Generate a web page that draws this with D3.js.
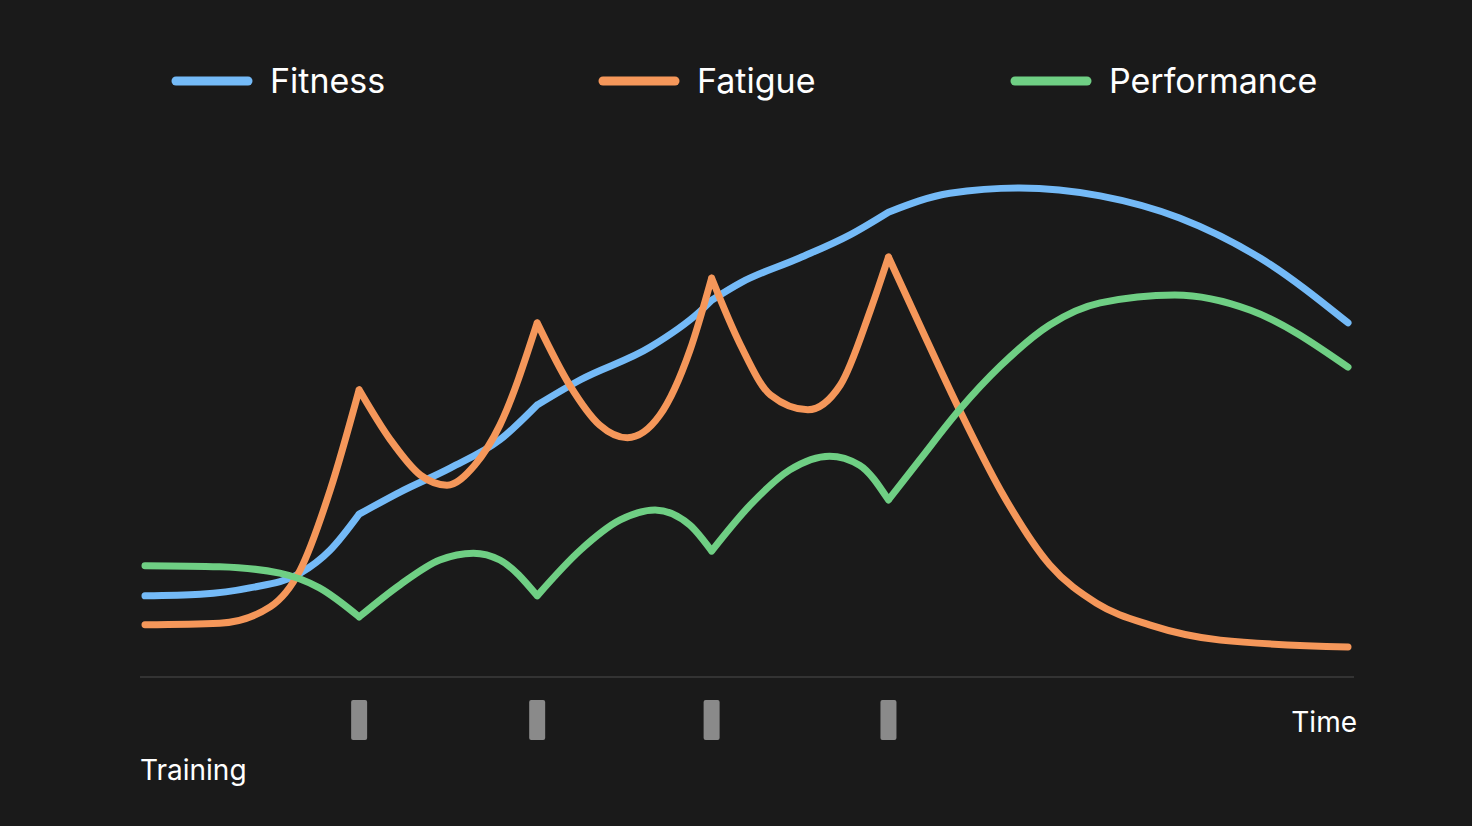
<!DOCTYPE html>
<html>
<head>
<meta charset="utf-8">
<script src="https://cdn.jsdelivr.net/npm/d3@7/dist/d3.min.js"></script>
<style>
  body { margin: 0; background: #1a1a1a; }
  text { font-family: Inter, "Noto Sans", sans-serif; fill: #fff; }
</style>
</head>
<body>
<svg id="chart" width="1472" height="826"></svg>
<script>
// days of training sessions
var trainingDays = [17.8, 32.6, 47.1, 61.8];
var seriesNames = ["Fitness", "Fatigue", "Performance"];
var seriesColors = ["#74baf7", "#f5975a", "#6fcf84"];

var fitness = [[0,15.4],[4.6,15.7],[8.7,16.9],[12.9,19.7],[15.4,24.1],[17.8,30.9],[21.2,35.1],[25.4,39.7],[29.5,45],[32.6,51.6],[36.2,56.4],[42,62.6],[46.1,69.3],[47.1,71.5],[49.5,74.8],[54.4,79.5],[58.6,83.9],[61.8,88.2],[66.9,91.8],[72.7,92.8],[79.4,91.3],[86,87.1],[92.7,79.5],[100,67.2]];
var fatigue = [[0,9.9],[6.2,10.2],[10.4,13.3],[12.9,20.3],[15.4,35.5],[17.8,54.5],[20.4,45],[22.9,38.3],[25.1,36.4],[27.4,40.2],[29.5,47.8],[32.6,67.2],[35.3,55.4],[37.8,47.8],[40.1,45.4],[42.8,49.7],[45.3,62],[47.1,75.7],[49.5,63],[52,53.5],[55.1,50.7],[57.8,55.4],[60.3,69.6],[61.8,79.7],[64.4,66.8],[67.7,50.7],[71.1,35.5],[75.2,21.3],[79.1,14],[83.5,9.9],[89.4,7],[100,5.7]];
var performance = [[0,21.1],[6.2,20.9],[11.2,19.7],[14.5,16.9],[17.8,11.4],[21.2,17.5],[24.5,22.2],[27.3,23.5],[29.5,22.2],[32.6,15.4],[36.2,24.1],[39.5,29.8],[42.4,31.7],[45.3,28.8],[47.1,23.9],[50.3,32.6],[53.6,39.3],[56.9,41.9],[59.4,40.2],[61.8,33.6],[64.4,41.2],[67.7,50.7],[71.1,59],[75.2,66.8],[79.4,71],[85.6,72.5],[91.9,69.6],[100,58.8]];
var allSeries = [fitness, fatigue, performance];

var svg = d3.select("#chart");
var x = d3.scaleLinear().domain([0, 100]).range([145, 1348]);
var y = d3.scaleLinear().domain([0, 100]).range([677, 150]);

// baseline
svg.append("line").attr("x1", 140).attr("x2", 1354).attr("y1", 677).attr("y2", 677)
  .attr("stroke", "#333").attr("stroke-width", 2);

// training session markers
svg.selectAll(".tick-bar").data(trainingDays).enter().append("rect")
  .attr("x", function(d) { return x(d) - 8; }).attr("y", 700)
  .attr("width", 16).attr("height", 40).attr("rx", 2).attr("fill", "#8a8a8a");

svg.append("text").attr("x", 140).attr("y", 780).attr("font-size", 28).text("Training");
svg.append("text").attr("x", 1357).attr("y", 732).attr("font-size", 28)
  .attr("text-anchor", "end").text("Time");

var line = d3.line().x(function(d) { return x(d[0]); }).y(function(d) { return y(d[1]); })
  .curve(d3.curveMonotoneX);

// split each series at training days so the corners stay sharp
allSeries.forEach(function(s, i) {
  var segs = [], cur = [];
  s.forEach(function(p) {
    cur.push(p);
    if (trainingDays.indexOf(p[0]) >= 0) { segs.push(cur); cur = [p]; }
  });
  if (cur.length > 1) segs.push(cur);
  svg.append("path").attr("d", segs.map(line).join(""))
    .attr("fill", "none").attr("stroke", seriesColors[i]).attr("stroke-width", 7)
    .attr("stroke-linecap", "round").attr("stroke-linejoin", "round");
});

// legend
var legendX = [176, 603, 1015];
seriesNames.forEach(function(n, i) {
  svg.append("line").attr("x1", legendX[i]).attr("x2", legendX[i] + 72)
    .attr("y1", 81).attr("y2", 81).attr("stroke", seriesColors[i])
    .attr("stroke-width", 9).attr("stroke-linecap", "round");
  svg.append("text").attr("x", legendX[i] + 94).attr("y", 93).attr("font-size", 34).text(n);
});
</script>
</body>
</html>
